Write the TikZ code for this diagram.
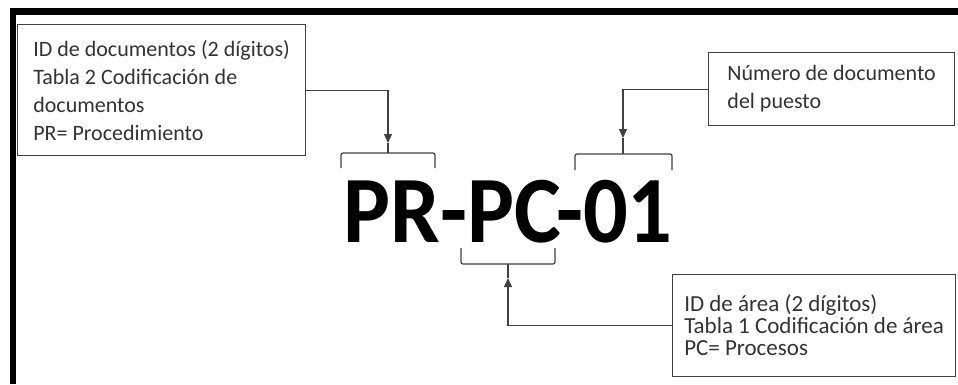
\documentclass[tikz,border=0pt]{standalone}
\usepackage{fontspec}
\setmainfont{Carlito}
\usetikzlibrary{positioning, arrows.meta}

\begin{document}
\begin{tikzpicture}[x=1pt, y=-1pt, >={Triangle[length=9pt, width=8pt]},
  infobox/.style={draw=black!75, line width=1.2pt, align=left, anchor=north west,
                  inner xsep=0pt, text=black!80},
  brk/.style={draw=black!75, line width=1.2pt, rounded corners=2pt}]
  \useasboundingbox (0,0) rectangle (958,384);
  % frame (top and left edges only)
  \draw[line width=6.5pt] (13,384) -- (13,11.5) -- (958,11.5);

  \node[anchor=base, inner sep=0pt, font=\fontsize{95}{95}\selectfont\bfseries] (code) at (508,242)
    {\scalebox{0.93}[1]{PR-PC-01}};

  \node[infobox, minimum width=288pt, minimum height=131pt,
        font=\fontsize{22}{28}\selectfont] (docid) at (17,24)
    {ID de documentos (2 dígitos)\\ Tabla 2 Codificación de\\ documentos\\ PR= Procedimiento};
  \node[infobox, minimum width=246pt, minimum height=73pt,
        font=\fontsize{22}{28}\selectfont] (docnum) at (708,52)
    {Número de documento\\ del puesto};
  \node[infobox, minimum width=283pt, minimum height=102pt,
        font=\fontsize{23}{22}\selectfont] (areaid) at (672,274)
    {ID de área (2 dígitos)\\ Tabla 1 Codificación de área\\ PC= Procesos};

  \coordinate (tPR)  at (388,143);
  \coordinate (tNum) at (623,138);
  \coordinate (tPC)  at (508,278);

  % brackets
  \foreach \l/\r/\y/\e in {341/435/153/168, 575/672/154/170, 461/555/264/248}
    \draw[brk] (\l,\e) -- (\l,\y) -- (\r,\y) -- (\r,\e);
  \foreach \c/\y in {tPR/153, tNum/154, tPC/264}
    \draw[brk] (\c) -- (\c |- 0,\y);

  \foreach \a/\b in {docid/tPR, docnum/tNum, areaid/tPC}
    \draw[->, draw=black!75, line width=1.2pt] (\a) -| (\b);
\end{tikzpicture}
\end{document}
